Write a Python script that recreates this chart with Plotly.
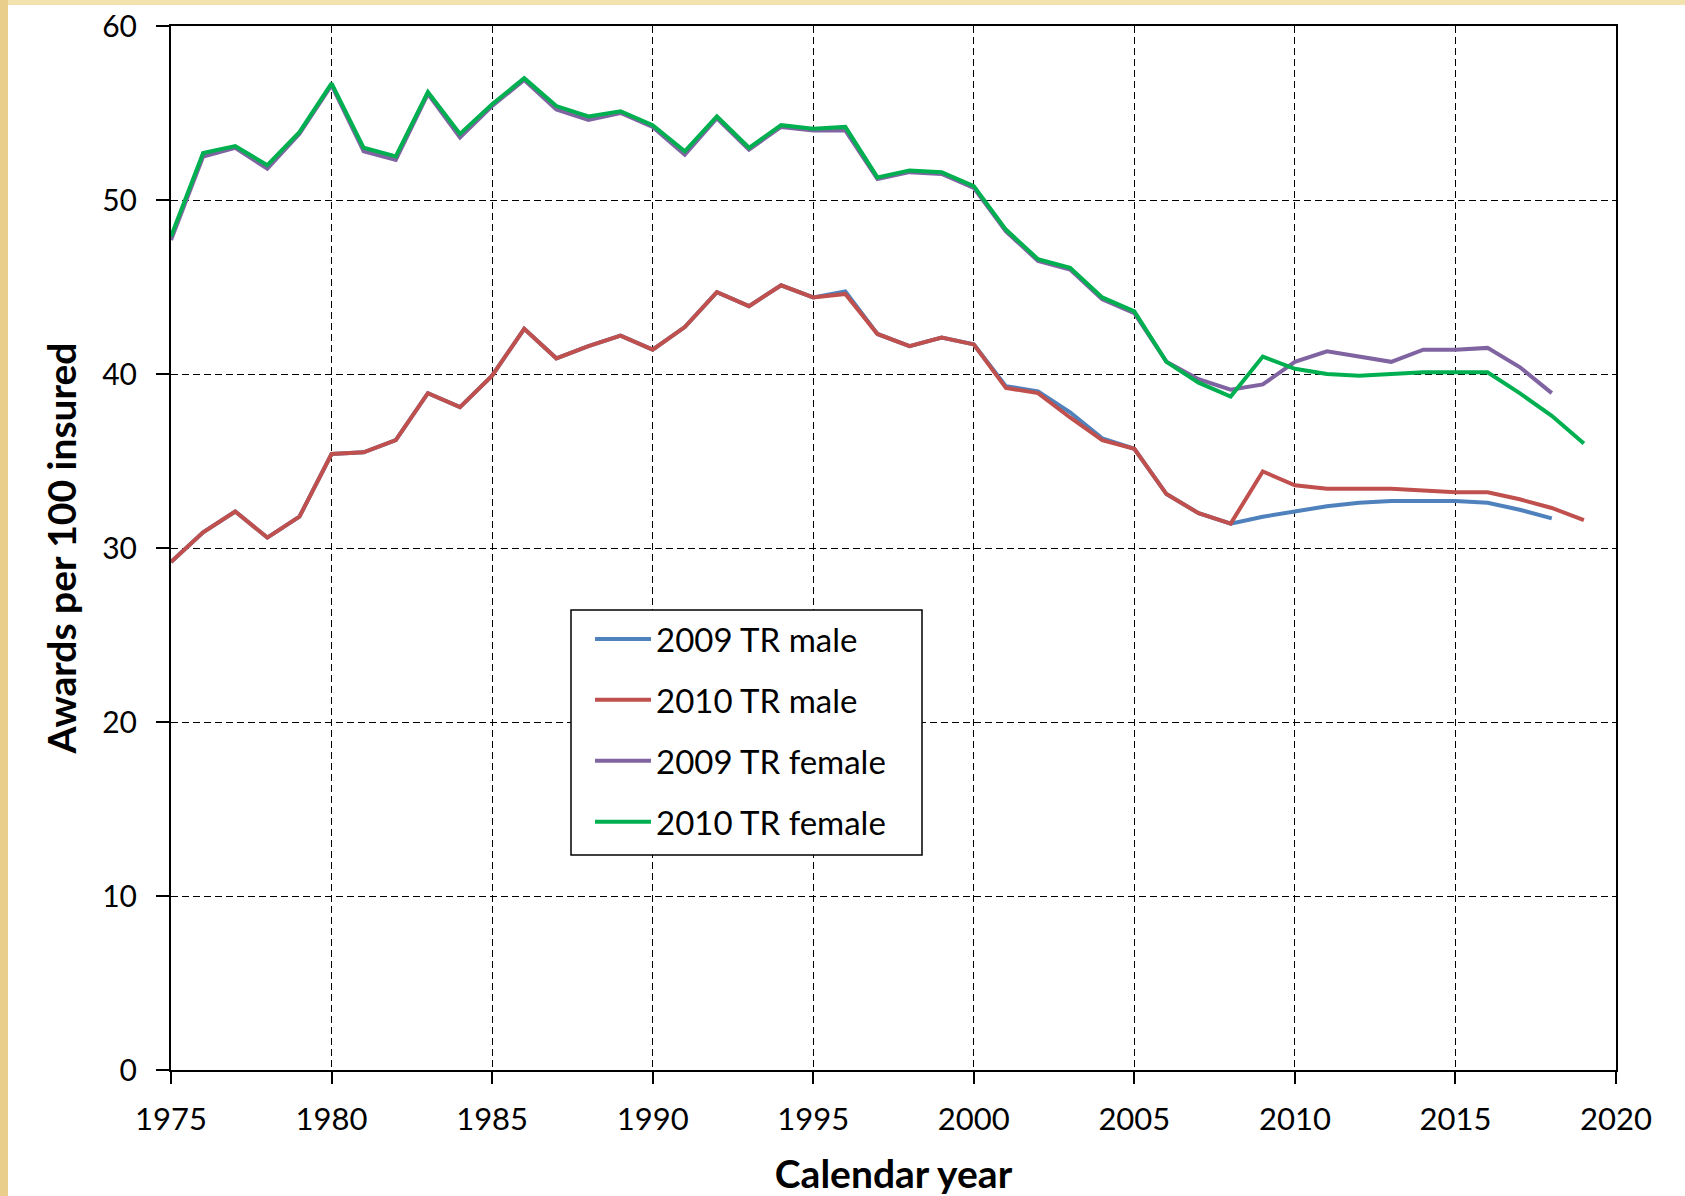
import plotly.graph_objects as go

years_2009 = list(range(1975, 2019))
years_2010 = list(range(1975, 2020))

male_2009 = [29.2, 30.9, 32.1, 30.6, 31.8, 35.4, 35.5, 36.2, 38.9, 38.1,
             39.9, 42.6, 40.9, 41.6, 42.2, 41.4, 42.7, 44.7, 43.9, 45.1,
             44.4, 44.75, 42.3, 41.6, 42.1, 41.7, 39.3, 39.0, 37.8, 36.3,
             35.7, 33.1, 32.0, 31.4, 31.8, 32.1, 32.4, 32.6, 32.7, 32.7,
             32.7, 32.6, 32.2, 31.7]

male_2010 = [29.2, 30.9, 32.1, 30.6, 31.8, 35.4, 35.5, 36.2, 38.9, 38.1,
             39.9, 42.6, 40.9, 41.6, 42.2, 41.4, 42.7, 44.7, 43.9, 45.1,
             44.4, 44.6, 42.3, 41.6, 42.1, 41.7, 39.2, 38.9, 37.5, 36.2,
             35.7, 33.1, 32.0, 31.4, 34.4, 33.6, 33.4, 33.4, 33.4, 33.3,
             33.2, 33.2, 32.8, 32.3, 31.6]

female_2009 = [47.7, 52.5, 53.0, 51.8, 53.8, 56.6, 52.8, 52.3, 56.1, 53.6,
               55.4, 56.9, 55.2, 54.6, 55.0, 54.2, 52.6, 54.7, 52.9, 54.2,
               54.0, 54.0, 51.2, 51.6, 51.5, 50.7, 48.2, 46.5, 46.0, 44.3,
               43.5, 40.7, 39.7, 39.1, 39.4, 40.7, 41.3, 41.0, 40.7, 41.4,
               41.4, 41.5, 40.4, 38.9]

female_2010 = [47.9, 52.7, 53.1, 52.0, 53.9, 56.7, 53.0, 52.5, 56.2, 53.8,
               55.5, 57.0, 55.4, 54.8, 55.1, 54.3, 52.8, 54.8, 53.0, 54.3,
               54.1, 54.2, 51.3, 51.7, 51.6, 50.8, 48.3, 46.6, 46.1, 44.4,
               43.6, 40.7, 39.5, 38.7, 41.0, 40.3, 40.0, 39.9, 40.0, 40.1,
               40.1, 40.1, 38.9, 37.6, 36.0]

x_ticks = [1975, 1980, 1985, 1990, 1995, 2000, 2005, 2010, 2015, 2020]
y_ticks = [0, 10, 20, 30, 40, 50, 60]

series = [
    ("2009 TR male", years_2009, male_2009, "#4F81BD"),
    ("2010 TR male", years_2010, male_2010, "#C0504D"),
    ("2009 TR female", years_2009, female_2009, "#8064A2"),
    ("2010 TR female", years_2010, female_2010, "#00B050"),
]

FONT = "Lato"

fig = go.Figure()
for name, xs, ys, col in series:
    fig.add_trace(go.Scatter(x=xs, y=ys, mode="lines", name=name,
                             legendgroup=name,
                             line=dict(color=col, width=4)))

# page body margin is removed (see post_script), figure fills the window
W, H = 1685, 1196
L, T = 171, 26
R, B = 69, 126
pw, ph = W - L - R, H - T - B


def px_x(p):
    return (p - L) / pw


def px_y(p):
    return (H - B - p) / ph


fig.update_layout(
    width=W, height=H,
    margin=dict(l=L, r=R, t=T, b=B, autoexpand=False),
    paper_bgcolor="white",
    plot_bgcolor="white",
    font=dict(family=FONT, size=30, color="#000000"),
    showlegend=True,
    legend=dict(
        x=px_x(590), y=px_y(611), xanchor="left", yanchor="top",
        bgcolor="rgba(0,0,0,0)", borderwidth=0,
        font=dict(family=FONT, size=33, color="#000000"),
        tracegroupgap=15, itemwidth=56,
    ),
    shapes=[
        dict(type="rect", xref="paper", yref="paper",
             x0=px_x(0), x1=px_x(W), y0=px_y(5), y1=px_y(0),
             fillcolor="#F3E2AE", line=dict(width=0), layer="below"),
        dict(type="rect", xref="paper", yref="paper",
             x0=px_x(0), x1=px_x(8), y0=px_y(H), y1=px_y(0),
             fillcolor="#E8CE8A", line=dict(width=0), layer="below"),
        dict(type="rect", xref="paper", yref="paper",
             x0=px_x(571), x1=px_x(922), y0=px_y(855), y1=px_y(610),
             fillcolor="white", line=dict(color="#000000", width=1.5),
             layer="above"),
    ],
)

fig.update_xaxes(
    range=[1975, 2020], tickvals=x_ticks, ticktext=[str(v) for v in x_ticks],
    showline=True, linecolor="#000000", linewidth=2, mirror=True,
    ticks="outside", ticklen=12, tickwidth=1.5, tickcolor="#000000",
    showgrid=True, gridcolor="#000000", gridwidth=1.2, griddash="7px,4px",
    zeroline=False, ticklabelstandoff=9, ticklabeloverflow="allow",
    tickfont=dict(family=FONT, size=31, color="#000000"),
    title=dict(text="<b>Calendar year</b>", standoff=24,
               font=dict(family=FONT, size=39, color="#000000")),
)

fig.update_yaxes(
    range=[0, 60], tickvals=y_ticks, ticktext=[str(v) for v in y_ticks],
    showline=True, linecolor="#000000", linewidth=2, mirror=True,
    ticks="outside", ticklen=13, tickwidth=1.5, tickcolor="#000000",
    showgrid=True, gridcolor="#000000", gridwidth=1.2, griddash="7px,4px",
    zeroline=False, ticklabelstandoff=13, ticklabeloverflow="allow",
    tickfont=dict(family=FONT, size=30, color="#000000"),
    title=dict(text="<b>Awards per 100 insured</b>", standoff=14,
               font=dict(family=FONT, size=39, color="#000000")),
)

fig.write_html(
    "out.html",
    config={"displayModeBar": False},
    post_script="document.body.style.margin='0';"
                "document.body.style.overflow='hidden';",
)
